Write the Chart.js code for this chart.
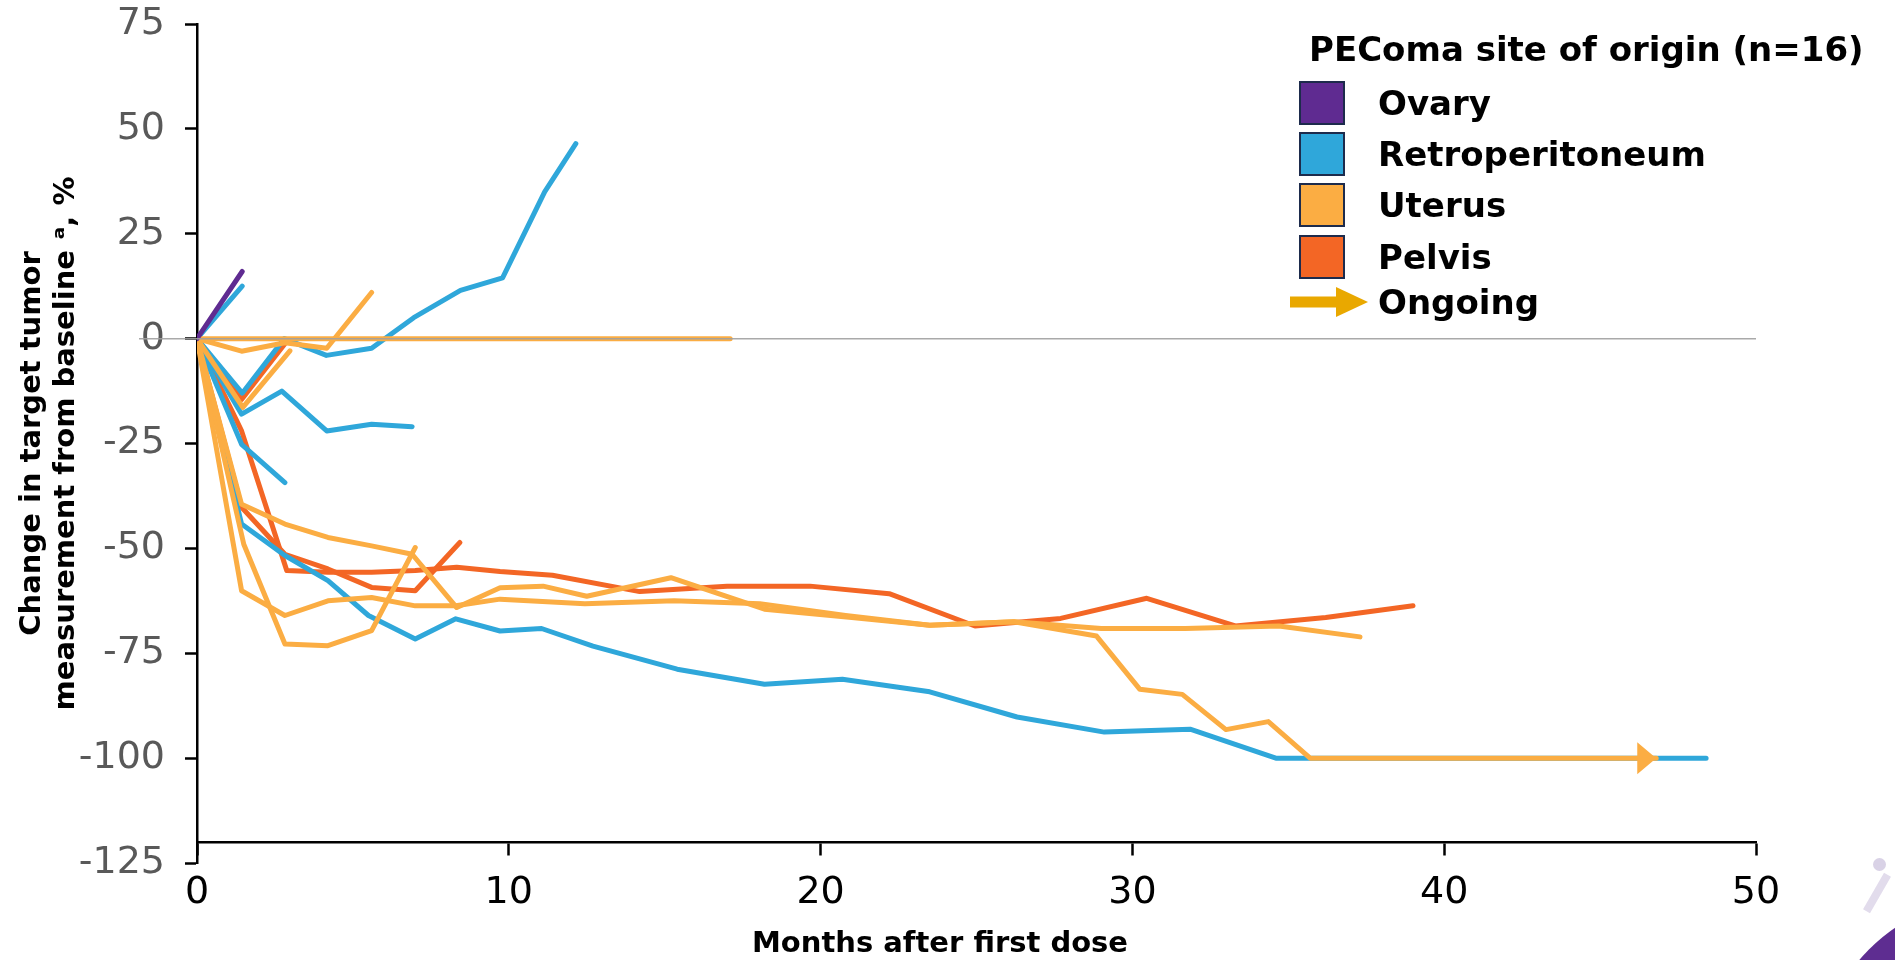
<!DOCTYPE html>
<html>
<head>
<meta charset="utf-8">
<title>PEComa tumor change</title>
<script src="https://cdn.jsdelivr.net/npm/chart.js@4.4.1/dist/chart.umd.min.js"></script>
<style>
  html, body { margin: 0; padding: 0; background: #fff; }
  body { width: 1895px; height: 960px; position: relative; overflow: hidden; font-family: "DejaVu Sans", sans-serif; }
  #wrap { position: absolute; left: 0; top: 0; width: 1895px; height: 960px; }
  .leg-title { position: absolute; left: 1309px; top: 26px; font-size: 34px; font-weight: bold; color: #000; white-space: nowrap; line-height: 46px; }
  .leg-row { position: absolute; left: 1290px; height: 50px; display: flex; align-items: center; }
  .leg-box { width: 42px; height: 40px; border: 2.5px solid #1d2b4c; margin-left: 9px; }
  .leg-arrow { width: 78px; height: 40px; }
  .leg-label { position: absolute; left: 88px; font-size: 34px; font-weight: bold; color: #000; white-space: nowrap; }
  .logo { position: absolute; left: 1815px; top: 895px; width: 370px; height: 370px; border-radius: 50%; background: #5e2d91; }
  .logo-dot { position: absolute; left: 1873px; top: 858px; width: 13px; height: 13px; border-radius: 50%; background: #d9d2e6; }
  .logo-arm { position: absolute; left: 1873px; top: 872px; width: 8px; height: 42px; background: #e2dcec; transform: rotate(30deg); }
</style>
</head>
<body>
<div id="wrap"><canvas id="chart" width="1895" height="960"></canvas></div>
<div class="legend" id="legend"></div>
<div class="logo-dot"></div>
<div class="logo-arm"></div>
<div class="logo"></div>
<script>
const sites = ["Ovary", "Retroperitoneum", "Uterus", "Pelvis"];
const xTickValues = [0, 10, 20, 30, 40, 50];
const yTickValues = [75, 50, 25, 0, -25, -50, -75, -100, -125];

// [months after first dose, % change from baseline]
const ovary1 = [[0, 0], [1.45, 16]];

const retro1 = [[0, 0], [1.45, 12.5]];
const retro2 = [[0, 0], [1.45, -13], [2.8, 0], [4.15, -4], [5.6, -2.3], [6.95, 5], [8.45, 11.5], [9.8, 14.5], [11.15, 35], [12.15, 46.5]];
const retro3 = [[0, 0], [1.43, -18], [2.72, -12.5], [4.16, -22], [5.6, -20.4], [6.9, -21]];
const retro4 = [[0, 0], [1.43, -25.2], [2.82, -34.3]];
const retro5 = [[0, 0], [1.43, -44.2], [2.82, -51.7], [4.2, -57.7], [5.5, -66], [7.0, -71.6], [8.3, -66.8], [9.72, -69.7], [11.05, -69.1], [12.7, -73.3], [15.4, -78.8], [18.2, -82.4], [20.7, -81.2], [23.5, -84.2], [26.3, -90.2], [29.1, -93.8], [31.85, -93.1], [34.6, -100], [48.4, -100]];

const uterus1 = [[0, 0], [17.1, 0]];
const uterus2 = [[0, 0], [1.43, -3], [2.82, -1], [4.16, -2.3], [5.6, 11]];
const uterus3 = [[0, 0], [1.47, -16.4], [2.98, -2.9]];
const uterus4 = [[0, 0], [1.43, -39.5], [2.82, -44.2], [4.2, -47.4], [5.6, -49.4], [6.9, -51.4], [8.33, -64.1], [9.72, -59.4], [11.1, -59], [12.5, -61.4], [15.2, -57], [18.2, -64.5], [21, -66.5], [23.5, -68.3], [26.2, -67.5], [28.85, -70.9], [30.24, -83.6], [31.6, -84.8], [33.0, -93.2], [34.36, -91.3], [35.7, -100], [46.8, -100]];
const uterus5 = [[0, 0], [1.43, -60.1], [2.82, -66], [4.2, -62.5], [5.6, -61.7], [7.0, -63.7], [8.3, -63.7], [9.72, -62.1], [12.44, -63.2], [15.3, -62.5], [18.05, -63.2], [20.8, -66], [23.5, -68.3], [26.2, -67.5], [29.0, -69.1], [31.7, -69.1], [34.7, -68.5], [37.3, -71.1]];
const uterus6 = [[0, 0], [1.5, -49], [2.82, -72.8], [4.2, -73.2], [5.6, -69.6], [7.0, -49.8]];

const pelvis1 = [[0, 0], [1.43, -14.5], [2.82, -1.2]];
const pelvis2 = [[0, 0], [1.43, -22], [2.88, -55.3], [4.2, -55.7], [5.6, -55.7], [7.0, -55.3], [8.33, -54.5], [9.72, -55.5], [11.4, -56.4], [14.2, -60.3], [17.0, -59], [19.66, -59], [22.2, -60.8], [24.95, -68.5], [27.7, -66.7], [30.46, -61.9], [33.3, -68.5], [36.2, -66.5], [39.0, -63.7]];
const pelvis3 = [[0, 0], [1.43, -40.2], [2.82, -51.4], [4.2, -54.9], [5.6, -59.3], [7.0, -60.1], [8.43, -48.6]];

// patients still on treatment get an arrow
const ongoing = [uterus4];

const siteColors = {
  Ovary: "#5f2b91",
  Retroperitoneum: "#2fa7da",
  Uterus: "#fbad43",
  Pelvis: "#f36625",
};

// first entries are drawn on top
const patients = [
  ["Ovary", ovary1],
  ["Uterus", uterus1], ["Uterus", uterus2], ["Uterus", uterus3],
  ["Uterus", uterus4], ["Uterus", uterus5], ["Uterus", uterus6],
  ["Retroperitoneum", retro1], ["Retroperitoneum", retro2], ["Retroperitoneum", retro3],
  ["Retroperitoneum", retro4], ["Retroperitoneum", retro5],
  ["Pelvis", pelvis1], ["Pelvis", pelvis2], ["Pelvis", pelvis3],
];

const datasets = patients.map(([site, pts]) => ({
  label: site,
  data: pts.map(([x, y]) => ({ x, y })),
  borderColor: siteColors[site],
  borderWidth: 5,
  borderCapStyle: "round",
  borderJoinStyle: "round",
  pointRadius: 0,
  tension: 0,
  ongoing: ongoing.includes(pts),
}));

// legend
const legend = document.getElementById("legend");
const title = document.createElement("div");
title.className = "leg-title";
title.textContent = "PEComa site of origin (n=16)";
legend.appendChild(title);
const rowCenters = [103, 154, 205, 257, 302];
sites.forEach((site, i) => {
  const row = document.createElement("div");
  row.className = "leg-row";
  row.style.top = (rowCenters[i] - 25) + "px";
  const box = document.createElement("div");
  box.className = "leg-box";
  box.style.background = siteColors[site];
  const lab = document.createElement("div");
  lab.className = "leg-label";
  lab.textContent = site;
  row.appendChild(box);
  row.appendChild(lab);
  legend.appendChild(row);
});
{
  const row = document.createElement("div");
  row.className = "leg-row";
  row.style.top = (rowCenters[4] - 25) + "px";
  row.innerHTML = '<svg class="leg-arrow" viewBox="0 0 78 40"><rect x="0" y="14.5" width="48" height="11" fill="#e9a800"/><polygon points="46,5 78,20 46,35" fill="#e9a800"/></svg>';
  const lab = document.createElement("div");
  lab.className = "leg-label";
  lab.textContent = "Ongoing";
  row.appendChild(lab);
  legend.appendChild(row);
}

const extras = {
  id: "extras",
  afterDatasetsDraw(chart) {
    const { ctx, chartArea, scales } = chart;
    const y0 = scales.y.getPixelForValue(0);
    ctx.save();
    ctx.strokeStyle = "rgba(160,160,160,0.9)";
    ctx.lineWidth = 1.5;
    ctx.beginPath();
    ctx.moveTo(chartArea.left - 58, y0);
    ctx.lineTo(chartArea.right, y0);
    ctx.stroke();

    chart.data.datasets.forEach((ds, i) => {
      if (!ds.ongoing) return;
      const pts = chart.getDatasetMeta(i).data;
      const end = pts[pts.length - 1];
      ctx.fillStyle = ds.borderColor;
      ctx.beginPath();
      ctx.moveTo(end.x, end.y);
      ctx.lineTo(end.x - 19, end.y - 16);
      ctx.lineTo(end.x - 19, end.y + 16);
      ctx.closePath();
      ctx.fill();
    });

    ctx.fillStyle = "#000";
    ctx.font = "bold 29px 'DejaVu Sans'";
    ctx.textAlign = "center";
    ctx.textBaseline = "middle";
    ctx.fillText("Months after first dose", 940, 944);
    ctx.restore();
  },
};

const axisFont = { family: "'DejaVu Sans'", size: 38 };

new Chart(document.getElementById("chart"), {
  type: "line",
  data: { datasets },
  plugins: [extras],
  options: {
    responsive: false,
    animation: false,
    events: [],
    layout: { padding: { left: 0, top: 24, right: 139, bottom: 97 } },
    plugins: { legend: { display: false }, tooltip: { enabled: false } },
    scales: {
      x: {
        type: "linear",
        min: 0,
        max: 50,
        position: { y: -120 },
        afterBuildTicks: (s) => { s.ticks = xTickValues.map((v) => ({ value: v })); },
        ticks: { color: "#000", font: axisFont, padding: 16, maxRotation: 0 },
        grid: { drawOnChartArea: false, tickLength: 12, tickWidth: 2.5, tickColor: "#000" },
        border: { color: "#000", width: 2.5 },
      },
      y: {
        type: "linear",
        min: -125,
        max: 75,
        afterBuildTicks: (s) => { s.ticks = yTickValues.map((v) => ({ value: v })); },
        afterFit: (s) => { s.width = 197; s.paddingTop = 0; s.paddingBottom = 0; },
        ticks: { color: "#595959", font: axisFont, padding: 20 },
        grid: { drawOnChartArea: false, tickLength: 12, tickWidth: 2.5, tickColor: "#000" },
        border: { color: "#000", width: 2.5 },
        title: {
          display: true,
          text: ["Change in target tumor", "measurement from baseline \u1D43, %"],
          color: "#000",
          font: { family: "'DejaVu Sans'", size: 29, weight: "bold", lineHeight: 1.15 },
          padding: { top: 16, bottom: 0 },
        },
      },
    },
  },
});
</script>
</body>
</html>
